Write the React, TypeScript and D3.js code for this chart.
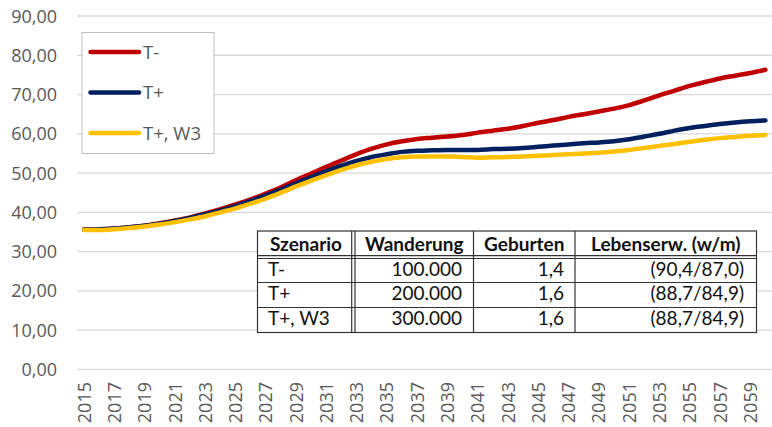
import * as d3 from 'd3'

const years = d3.range(2015, 2061)

const tMinus = [
  35.6, 35.7, 35.9, 36.2, 36.6, 37.2, 37.9, 38.7, 39.7, 40.8,
  42.0, 43.3, 44.8, 46.4, 48.2, 49.9, 51.6, 53.2, 54.8, 56.2,
  57.3, 58.1, 58.7, 59.0, 59.3, 59.7, 60.3, 60.8, 61.3, 62.0,
  62.8, 63.5, 64.3, 65.0, 65.7, 66.4, 67.3, 68.5, 69.8, 71.0,
  72.2, 73.2, 74.1, 74.8, 75.5, 76.3,
]
const tPlus = [
  35.6, 35.7, 35.9, 36.2, 36.6, 37.1, 37.8, 38.6, 39.5, 40.5,
  41.6, 42.9, 44.3, 45.8, 47.4, 49.0, 50.5, 51.9, 53.1, 54.1,
  54.8, 55.4, 55.7, 55.8, 55.9, 55.9, 55.9, 56.1, 56.2, 56.4,
  56.7, 57.0, 57.3, 57.6, 57.8, 58.1, 58.6, 59.3, 60.0, 60.8,
  61.5, 62.0, 62.5, 62.9, 63.2, 63.4,
]
const tPlusW3 = [
  35.5, 35.5, 35.7, 36.0, 36.4, 36.9, 37.5, 38.2, 39.0, 40.0,
  41.0, 42.2, 43.5, 45.0, 46.6, 48.1, 49.5, 50.8, 52.0, 52.9,
  53.6, 54.0, 54.2, 54.2, 54.2, 54.1, 53.9, 54.0, 54.1, 54.2,
  54.4, 54.6, 54.8, 55.0, 55.2, 55.5, 55.9, 56.4, 56.9, 57.4,
  58.0, 58.5, 58.9, 59.2, 59.5, 59.7,
]

const seriesNames = ['T-', 'T+', 'T+, W3']
const seriesColors = ['#C00000', '#002060', '#FFC000']
const yTicks = d3.range(0, 91, 10)

const tableHeader = ['Szenario', 'Wanderung', 'Geburten', 'Lebenserw. (w/m)']
const tableScenario = ['T-', 'T+', 'T+, W3']
const tableMigration = ['100.000', '200.000', '300.000']
const tableBirths = ['1,4', '1,6', '1,6']
const tableLife = ['(90,4/87,0)', '(88,7/84,9)', '(88,7/84,9)']

const fmt = (v: number) => v.toFixed(2).replace('.', ',')

export default function App() {
  const width = 772
  const height = 427

  const x = d3.scalePoint<number>().domain(years).range([76.6, 773]).padding(0.5)
  const y = d3.scaleLinear().domain([0, 90]).range([369.4, 16])

  const line = d3
    .line<number>()
    .x((_, i) => x(years[i]) ?? 0)
    .y((d) => y(d))
    .curve(d3.curveMonotoneX)

  const series = [tMinus, tPlus, tPlusW3]
  const labelYears = years.filter((yr) => (yr - 2015) % 2 === 0)

  // table geometry
  const tLeft = 257.5
  const tRight = 756.5
  const colX = [tLeft, 353.3, 473.5, 575, tRight]
  const rowY = [231, 257, 282.5, 307.5, 332.5]
  const font = 'Lato, "Open Sans", sans-serif'
  const axisFont = '"Open Sans", sans-serif'

  return (
    <svg
      width={width}
      height={height}
      style={{position: 'absolute', left: 0, top: 0, background: '#fff'}}
    >
      <g>
        {yTicks.map((t) => (
          <g key={t}>
            <line x1={77} x2={772} y1={y(t)} y2={y(t)} stroke={'#d9d9d9'} strokeWidth={1.3} />
            <text
              x={57}
              y={y(t) + 6.5}
              textAnchor={'end'}
              fontFamily={axisFont}
              fontSize={18}
              fill={'#595959'}
            >
              {fmt(t)}
            </text>
          </g>
        ))}
      </g>
      <g>
        {labelYears.map((yr) => (
          <text
            key={yr}
            transform={`translate(${(x(yr) ?? 0) + 6.5}, 382) rotate(-90)`}
            textAnchor={'end'}
            fontFamily={axisFont}
            fontSize={18}
            fill={'#595959'}
          >
            {yr}
          </text>
        ))}
      </g>
      <g>
        {series.map((s, i) => (
          <path
            key={seriesNames[i]}
            d={line(s) ?? undefined}
            fill={'none'}
            stroke={seriesColors[i]}
            strokeWidth={4.5}
            strokeLinecap={'round'}
            strokeLinejoin={'round'}
          />
        ))}
      </g>

      {/* legend */}
      <g>
        <rect x={82} y={32.5} width={132} height={121} fill={'#fff'} stroke={'#bfbfbf'} strokeWidth={1} />
        {seriesNames.map((n, i) => {
          const ly = 52 + i * 40.5
          return (
            <g key={n}>
              <line x1={90.5} x2={139} y1={ly} y2={ly} stroke={seriesColors[i]} strokeWidth={4.5} strokeLinecap={'round'} />
              <text x={143} y={ly + 6.5} fontFamily={axisFont} fontSize={18.5} fill={'#595959'}>
                {n}
              </text>
            </g>
          )
        })}
      </g>

      {/* table */}
      <g fontFamily={font} fontSize={19} fill={'#111'}>
        <rect x={tLeft} y={rowY[0]} width={tRight - tLeft} height={rowY[4] - rowY[0]} fill={'#fff'} stroke={'#333'} strokeWidth={1.2} />
        <line x1={tLeft} x2={tRight} y1={255.7} y2={255.7} stroke={'#333'} strokeWidth={1.2} />
        <line x1={tLeft} x2={tRight} y1={258.5} y2={258.5} stroke={'#333'} strokeWidth={1.2} />
        {rowY.slice(2, 4).map((ry) => (
          <line key={ry} x1={tLeft} x2={tRight} y1={ry} y2={ry} stroke={'#333'} strokeWidth={1.2} />
        ))}
        <line x1={351.7} x2={351.7} y1={rowY[0]} y2={rowY[4]} stroke={'#333'} strokeWidth={1.2} />
        <line x1={355} x2={355} y1={rowY[0]} y2={rowY[4]} stroke={'#333'} strokeWidth={1.2} />
        {colX.slice(2, 4).map((cx) => (
          <line key={cx} x1={cx} x2={cx} y1={rowY[0]} y2={rowY[4]} stroke={'#333'} strokeWidth={1.2} />
        ))}
        <text x={270} y={251} fontWeight={700}>{tableHeader[0]}</text>
        <text x={(355 + colX[2]) / 2} y={251} fontWeight={700} textAnchor={'middle'}>{tableHeader[1]}</text>
        <text x={(colX[2] + colX[3]) / 2} y={251} fontWeight={700} textAnchor={'middle'}>{tableHeader[2]}</text>
        <text x={(colX[3] + tRight) / 2} y={251} fontWeight={700} textAnchor={'middle'}>{tableHeader[3]}</text>
        {tableScenario.map((sc, i) => {
          const by = 275.5 + i * 24.6
          return (
            <g key={sc}>
              <text x={268} y={by}>{sc}</text>
              <text x={462} y={by} textAnchor={'end'}>{tableMigration[i]}</text>
              <text x={564} y={by} textAnchor={'end'}>{tableBirths[i]}</text>
              <text x={744} y={by} textAnchor={'end'}>{tableLife[i]}</text>
            </g>
          )
        })}
      </g>
    </svg>
  )
}
